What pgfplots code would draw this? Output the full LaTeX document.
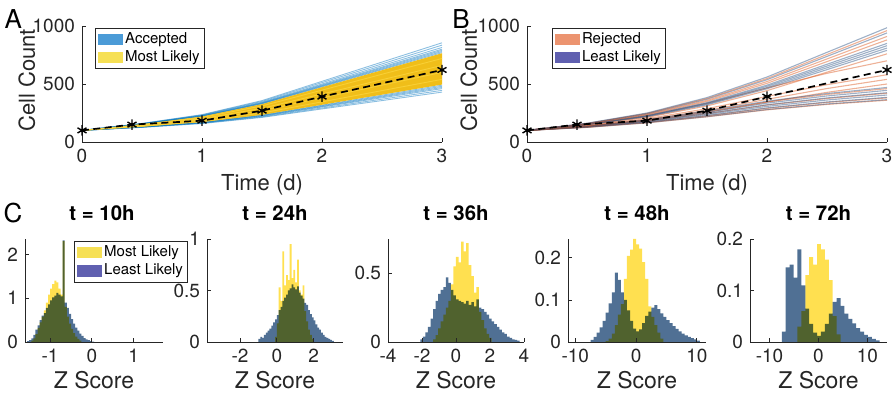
\documentclass[border=0pt]{standalone}
\usepackage{fontspec}
\setmainfont{TeX Gyre Heros}
\setsansfont{TeX Gyre Heros}
\usepackage{pgfplots}
\usepackage{pgfplotstable}
\pgfplotsset{compat=1.18}

\definecolor{axcol}{rgb}{0.15,0.15,0.15}
\definecolor{accblue}{RGB}{0,114,189}
\definecolor{accleg}{RGB}{75,155,215}
\definecolor{mlband}{RGB}{240,190,25}
\definecolor{mltex}{RGB}{250,212,60}
\definecolor{mlleg}{RGB}{246,224,85}
\definecolor{rejor}{RGB}{217,83,25}
\definecolor{rejleg}{RGB}{236,148,112}
\definecolor{llline}{RGB}{40,80,130}
\definecolor{llleg}{RGB}{96,96,176}
\definecolor{hblue}{RGB}{80,112,148}
\definecolor{hyellow}{RGB}{255,224,80}

\pgfplotstableread{
t   b1  b2  b3  b4  b5  b6  b7  b8  b9  b10 b11 b12 b13 b14 b15 y1  y2  y3  y4
0   100 100 100 100 100 100 100 100 100 100 100 100 100 100 100 100 100 100 100
0.5 126 128 129 130 130 131 137 143 154 154 155 156 157 159 160 135 140 145 150
1   159 162 165 167 168 170 183 197 221 222 224 226 229 232 236 179 190 201 212
1.5 212 217 222 226 229 233 256 284 328 331 335 338 343 350 357 250 270 290 311
2   285 293 302 307 313 318 358 402 475 481 486 492 500 512 523 346 380 414 447
2.5 357 369 381 389 396 404 459 521 623 630 638 646 658 673 689 443 490 537 584
3   430 445 460 470 480 490 560 640 770 780 790 800 815 835 855 540 600 660 720
}\tabA

\pgfplotstableread{
t   l1  l2  l3  l4  l5  l6  l7  l8  l9  l10 l11 l12 o1  o2  o3  o4  o5  o6  o7  o8  o9  o10 o11 o12
0   100 100 100 100 100 100 100 100 100 100 100 100 100 100 100 100 100 100 100 100 100 100 100 100
0.5 127 129 131 133 135 137 148 150 151 153 159 162 126 128 132 136 134 137 141 151 146 155 157 160
1   166 171 176 181 186 193 217 221 224 228 243 250 165 170 180 190 184 192 201 226 212 233 238 246
1.5 219 228 237 246 255 267 321 327 334 340 369 383 217 226 244 262 256 272 287 334 311 350 359 375
2   280 294 307 321 335 352 459 469 480 490 537 560 277 290 318 345 344 368 393 466 443 506 521 547
2.5 328 345 362 380 397 418 624 640 655 670 738 773 324 341 375 410 428 461 494 592 602 693 716 754
3   365 385 405 425 445 470 790 810 830 850 940 985 360 380 420 460 500 540 580 700 760 880 910 960
}\tabB

\pgfplotsset{
  base/.style={
    scale only axis, anchor=south west,
    axis x line*=bottom, axis y line*=left,
    tick align=inside, major tick length=1.8pt,
    axis line style={axcol, line width=0.45pt},
    tick style={axcol, line width=0.45pt},
    tick label style={font=\fontsize{9.5}{10}\selectfont, text=axcol},
    /pgf/number format/assume math mode=true,
    /pgf/number format/1000 sep={},
    label style={font=\fontsize{11}{12}\selectfont, text=axcol},
    legend cell align=left,
    legend style={draw=axcol, line width=0.4pt, fill=white,
      font=\fontsize{7.5}{8}\selectfont, inner xsep=1.5pt, inner ysep=1.2pt,
      row sep=0.3pt, anchor=north west, nodes={inner sep=0.9pt, text=black}},
    legend image code/.code={\fill[##1, draw=none] (0pt,-2.9pt) rectangle (12.5pt,2.9pt);},
  },
  top/.style={base, width=180pt, height=58pt, xmin=0, xmax=3, ymin=0, ymax=1000,
    xtick={0,1,2,3}, ytick={0,500,1000},
    xlabel={Time (d)}, ylabel={Cell Count},
    xlabel style={at={(axis description cs:0.5,-0.414)}, anchor=base},
  },
  hist/.style={base, height=51.5pt, ymin=0, axis on top,
    xlabel={Z Score},
    xlabel style={at={(axis description cs:0.5,-0.447)}, anchor=base, font=\fontsize{11.5}{12}\selectfont},
    title style={font=\bfseries\fontsize{10.2}{11}\selectfont, at={(0.5,1)}, anchor=base, yshift=3pt},
  },
  acc/.style={accblue, draw opacity=0.45, line width=0.45pt, forget plot},
  mlt/.style={mltex, draw opacity=0.8, line width=0.45pt, forget plot},
  rej/.style={rejor, draw opacity=0.45, line width=0.55pt, forget plot},
  lll/.style={llline, draw opacity=0.45, line width=0.55pt, forget plot},
  dat/.style={black, line width=0.85pt, dash pattern=on 3.5pt off 2.2pt, mark=asterisk,
    mark size=2.6pt, mark options={solid, line width=0.7pt}, forget plot},
  hb/.style={const plot, fill=hblue, draw=none, blend mode=multiply, forget plot},
  hy/.style={const plot, fill=hyellow, draw=none, blend mode=multiply, forget plot},
}

\begin{document}
\begin{tikzpicture}
\useasboundingbox (0,0) rectangle (446.5pt,197.5pt);

% ---------------- Panel A
\begin{axis}[top, at={(41pt,126.5pt)},
  ylabel style={at={(axis description cs:-0.1306,0.53)}, anchor=base},
  legend style={at={(0.036,0.983)}}]
\addlegendimage{fill=accleg}\addlegendentry{Accepted}
\addlegendimage{fill=mlleg}\addlegendentry{Most Likely}
\pgfplotsinvokeforeach{1,...,15}{\addplot[acc] table[x=t,y=b#1]{\tabA};}
\addplot[fill=mlband, draw=none, forget plot] coordinates {(0,100)(0.5,153)(1,220)(1.5,326)(2,472)(2.5,619)(3,765)(3,495)(2.5,408)(2,321)(1.5,234)(1,171)(0.5,132)(0,100)};
\pgfplotsinvokeforeach{1,...,4}{\addplot[mlt] table[x=t,y=y#1]{\tabA};}
\addplot[dat] coordinates {(0,100)(0.4167,150)(1,184)(1.5,270)(2,391)(3,621)};
\end{axis}

% ---------------- Panel B
\begin{axis}[top, at={(263.5pt,126.5pt)},
  ylabel style={at={(axis description cs:-0.139,0.53)}, anchor=base},
  legend style={at={(0.069,0.983)}}]
\addlegendimage{fill=rejleg}\addlegendentry{Rejected}
\addlegendimage{fill=llleg}\addlegendentry{Least Likely}
\pgfplotsinvokeforeach{1,...,12}{
  \addplot[rej] table[x=t,y=o#1]{\tabB};
  \addplot[lll] table[x=t,y=l#1]{\tabB};
}
\addplot[dat] coordinates {(0,100)(0.4167,150)(1,184)(1.5,270)(2,391)(3,621)};
\end{axis}

% ---------------- H1 t=10h
\begin{axis}[hist, at={(12.5pt,26.5pt)}, width=69pt,
  xmin=-1.6, xmax=1.7, ymax=2.35, xtick={-1,0,1}, ytick={0,1,2},
  title={t = 10h}, title style={at={(0.558,1)}},
  legend style={at={(0.355,0.98)}}]
\addlegendimage{fill=mlleg}\addlegendentry{Most Likely}
\addlegendimage{fill=llleg}\addlegendentry{Least Likely}
\addplot[hb] coordinates {(-1.55,.02)(-1.50,.04)(-1.45,.08)(-1.40,.16)(-1.35,.28)(-1.30,.38)(-1.25,.50)(-1.20,.60)(-1.15,.66)(-1.10,.78)(-1.05,.86)(-1.00,.95)(-0.95,1.02)(-0.90,1.06)(-0.85,1.12)(-0.80,1.08)(-0.75,1.04)(-0.70,2.32)(-0.65,.90)(-0.60,.78)(-0.55,.64)(-0.50,.52)(-0.45,.42)(-0.40,.33)(-0.35,.26)(-0.30,.19)(-0.25,.14)(-0.20,.09)(-0.15,.06)(-0.10,.04)(-0.05,.02)(0.00,.01)(0.05,0)} \closedcycle;
\addplot[hy] coordinates {(-1.45,.03)(-1.40,.08)(-1.35,.18)(-1.30,.32)(-1.25,.45)(-1.20,.58)(-1.15,.72)(-1.10,.90)(-1.05,1.08)(-1.00,1.22)(-0.95,1.32)(-0.90,1.40)(-0.85,1.36)(-0.80,1.22)(-0.75,1.08)(-0.70,2.30)(-0.65,.80)(-0.60,.58)(-0.55,.42)(-0.50,.30)(-0.45,.20)(-0.40,.12)(-0.35,.07)(-0.30,.03)(-0.25,0)} \closedcycle;
\end{axis}

% ---------------- H2 t=24h
\begin{axis}[hist, at={(103.5pt,26.5pt)}, width=68pt,
  xmin=-3.8, xmax=3.6, ymax=1.0, xtick={-2,0,2}, ytick={0,0.5,1},
  title={t = 24h}]
\addplot[hb] coordinates {(-1.0,.03)(-0.9,.05)(-0.8,.04)(-0.7,.07)(-0.6,.09)(-0.5,.11)(-0.4,.13)(-0.3,.16)(-0.2,.19)(-0.1,.22)(0.0,.26)(0.1,.31)(0.2,.34)(0.3,.40)(0.4,.43)(0.5,.46)(0.6,.50)(0.7,.52)(0.8,.56)(0.9,.53)(1.0,.51)(1.1,.54)(1.2,.48)(1.3,.45)(1.4,.42)(1.5,.38)(1.6,.36)(1.7,.31)(1.8,.27)(1.9,.24)(2.0,.21)(2.1,.17)(2.2,.14)(2.3,.12)(2.4,.09)(2.5,.07)(2.6,.05)(2.7,.04)(2.8,.03)(2.9,.02)(3.0,.01)(3.1,0)} \closedcycle;
\addplot[hy] coordinates {(-0.1,.05)(0.0,.18)(0.1,.53)(0.2,.40)(0.3,.88)(0.4,.55)(0.5,.65)(0.6,.60)(0.7,.95)(0.8,.62)(0.9,.70)(1.0,.58)(1.1,.80)(1.2,.50)(1.3,.46)(1.4,.55)(1.5,.30)(1.6,.20)(1.7,.12)(1.8,.07)(1.9,.03)(2.0,0)} \closedcycle;
\end{axis}

% ---------------- H3 t=36h
\begin{axis}[hist, at={(194pt,26.5pt)}, width=68pt,
  xmin=-4, xmax=4, ymax=0.75, xtick={-4,-2,0,2,4}, ytick={0,0.5},
  title={t = 36h}]
\addplot[hb] coordinates {(-2.10,.02)(-1.95,.04)(-1.80,.07)(-1.65,.11)(-1.50,.17)(-1.35,.24)(-1.20,.30)(-1.05,.35)(-0.90,.38)(-0.75,.40)(-0.60,.47)(-0.45,.43)(-0.30,.38)(-0.15,.34)(0.00,.31)(0.15,.30)(0.30,.29)(0.45,.28)(0.60,.30)(0.75,.27)(0.90,.29)(1.05,.26)(1.20,.31)(1.35,.25)(1.50,.24)(1.65,.22)(1.80,.20)(1.95,.17)(2.10,.15)(2.25,.13)(2.40,.11)(2.55,.09)(2.70,.07)(2.85,.06)(3.00,.04)(3.15,.03)(3.30,.02)(3.45,.015)(3.60,.01)(3.75,0)} \closedcycle;
\addplot[hy] coordinates {(-1.35,.02)(-1.20,.05)(-1.05,.10)(-0.90,.15)(-0.75,.20)(-0.60,.25)(-0.45,.30)(-0.30,.42)(-0.15,.55)(0.00,.62)(0.15,.58)(0.30,.73)(0.45,.66)(0.60,.72)(0.75,.56)(0.90,.48)(1.05,.36)(1.20,.40)(1.35,.22)(1.50,.16)(1.65,.10)(1.80,.06)(1.95,.03)(2.10,0)} \closedcycle;
\end{axis}

% ---------------- H4 t=48h
\begin{axis}[hist, at={(284pt,26.5pt)}, width=69pt,
  xmin=-11.2, xmax=11.5, ymax=0.245, xtick={-10,0,10}, ytick={0,0.1,0.2},
  title={t = 48h}]
\addplot[hb] coordinates {(-7.5,.005)(-7.0,.012)(-6.5,.022)(-6.0,.035)(-5.5,.05)(-5.0,.07)(-4.5,.092)(-4.0,.118)(-3.5,.165)(-3.0,.148)(-2.5,.118)(-2.0,.10)(-1.5,.075)(-1.0,.05)(-0.5,.032)(0.0,.025)(0.5,.03)(1.0,.045)(1.5,.062)(2.0,.072)(2.5,.082)(3.0,.088)(3.5,.078)(4.0,.068)(4.5,.06)(5.0,.052)(5.5,.045)(6.0,.038)(6.5,.031)(7.0,.025)(7.5,.02)(8.0,.016)(8.5,.012)(9.0,.009)(9.5,.006)(10.0,.003)(10.5,0)} \closedcycle;
\addplot[hy] coordinates {(-5.0,.002)(-4.5,.008)(-4.0,.02)(-3.5,.04)(-3.0,.065)(-2.5,.09)(-2.0,.15)(-1.5,.205)(-1.0,.22)(-0.5,.245)(0.0,.232)(0.5,.222)(1.0,.19)(1.5,.15)(2.0,.085)(2.5,.06)(3.0,.04)(3.5,.022)(4.0,.008)(4.5,0)} \closedcycle;
\end{axis}

% ---------------- H5 t=72h
\begin{axis}[hist, at={(375pt,26.5pt)}, width=68.5pt,
  xmin=-14, xmax=14, ymax=0.2, xtick={-10,0,10}, ytick={0,0.1,0.2},
  title={t = 72h}]
\addplot[hb] coordinates {(-7.5,.02)(-6.7,.145)(-5.9,.15)(-5.1,.125)(-4.3,.18)(-3.5,.11)(-2.7,.065)(-1.9,.035)(-1.1,.018)(-0.3,.012)(0.5,.02)(1.3,.035)(2.1,.055)(2.9,.078)(3.7,.085)(4.5,.07)(5.3,.055)(6.1,.045)(6.9,.036)(7.7,.027)(8.5,.02)(9.3,.014)(10.1,.01)(10.9,.006)(11.7,.003)(12.5,0)} \closedcycle;
\addplot[hy] coordinates {(-4.3,.03)(-3.5,.06)(-2.7,.13)(-1.9,.165)(-1.1,.15)(-0.3,.19)(0.5,.18)(1.3,.16)(2.1,.12)(2.9,.05)(3.7,.015)(4.5,0)} \closedcycle;
\end{axis}

\node[font=\fontsize{13}{14}\selectfont] at (6.7pt,188pt) {A};
\node[font=\fontsize{13}{14}\selectfont] at (230.5pt,188pt) {B};
\node[font=\fontsize{13}{14}\selectfont] at (6.5pt,91pt) {C};
\end{tikzpicture}
\end{document}
